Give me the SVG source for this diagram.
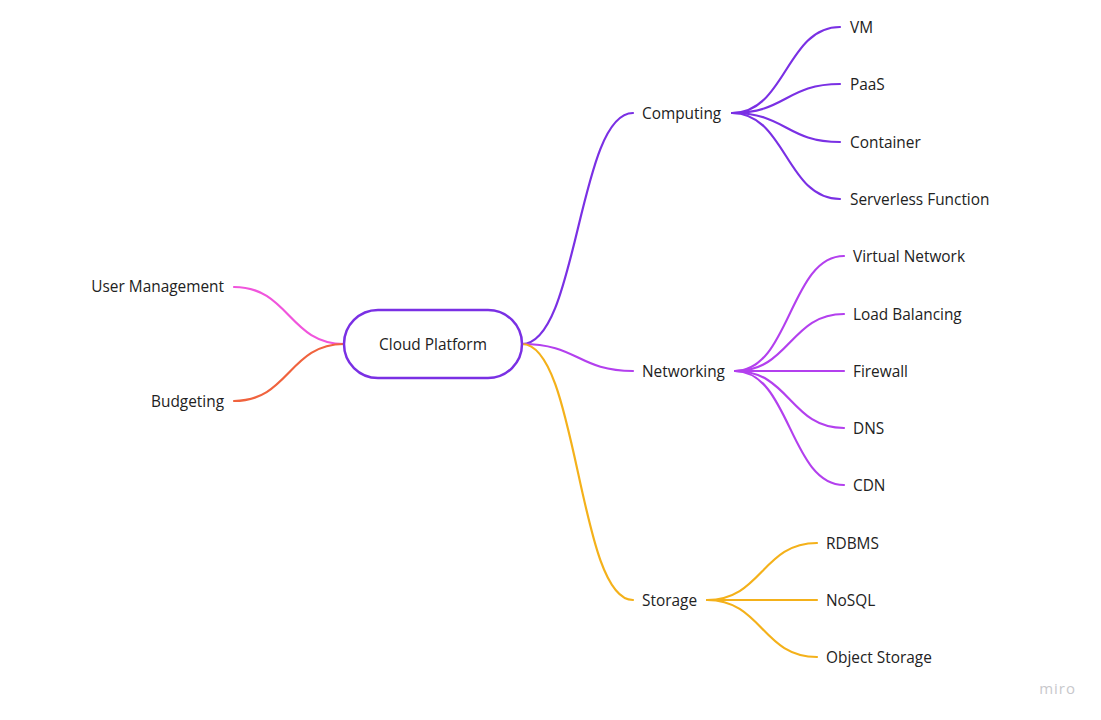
<svg xmlns="http://www.w3.org/2000/svg" width="1101" height="720" viewBox="0 0 1101 720">
<style>
text{font-family:"Open Sans","Noto Sans","Liberation Sans",sans-serif;font-size:15.4px;fill:#222;}
.e{fill:none;stroke-width:2.2;stroke-linecap:round;}
.c{stroke:#7a30e4;}
.n{stroke:#b340ee;}
.s{stroke:#f4b11a;}
.u{stroke:#f055dc;}
.b{stroke:#f0633e;}
.r{text-anchor:end;}
</style>
<rect width="1101" height="720" fill="#fff"/>
<g id="connectors">
<path class="e c" d="M522,344 C578,344 578,113 633,113"/>
<path class="e n" d="M522,344 C578,344 578,371 633,371"/>
<path class="e s" d="M522,344 C578,344 578,600 633,600"/>
<path class="e u" d="M344,344 C289,344 289,287 234,287"/>
<path class="e b" d="M344,344 C289,344 289,401 234,401"/>
<path class="e c" d="M732,113 C786,113 786,27 840,27"/>
<path class="e c" d="M732,113 C786,113 786,84 840,84"/>
<path class="e c" d="M732,113 C786,113 786,142 840,142"/>
<path class="e c" d="M732,113 C786,113 786,199 840,199"/>
<path class="e n" d="M735,371 C790,371 790,256 844,256"/>
<path class="e n" d="M735,371 C790,371 790,314 844,314"/>
<path class="e n" d="M735,371 L844,371"/>
<path class="e n" d="M735,371 C790,371 790,428 844,428"/>
<path class="e n" d="M735,371 C790,371 790,485 844,485"/>
<path class="e s" d="M707,600 C762,600 762,543 817,543"/>
<path class="e s" d="M707,600 L817,600"/>
<path class="e s" d="M707,600 C762,600 762,657 817,657"/>
</g>
<g id="root"><rect x="344" y="310" width="178" height="68" rx="34" fill="#fff" stroke="#7a30e4" stroke-width="2.5"/><text x="433" y="350" text-anchor="middle">Cloud Platform</text></g>
<g id="computing"><text x="642" y="119">Computing</text></g>
<g id="networking"><text x="642" y="377">Networking</text></g>
<g id="storage"><text x="642" y="606">Storage</text></g>
<g id="user-management"><text class="r" x="224" y="292">User Management</text></g>
<g id="budgeting"><text class="r" x="224" y="407">Budgeting</text></g>
<g id="vm"><text x="850" y="33">VM</text></g>
<g id="paas"><text x="850" y="90">PaaS</text></g>
<g id="container"><text x="850" y="148">Container</text></g>
<g id="serverless"><text x="850" y="205">Serverless Function</text></g>
<g id="vnet"><text x="853" y="262">Virtual Network</text></g>
<g id="lb"><text x="853" y="320">Load Balancing</text></g>
<g id="firewall"><text x="853" y="377">Firewall</text></g>
<g id="dns"><text x="853" y="434">DNS</text></g>
<g id="cdn"><text x="853" y="491">CDN</text></g>
<g id="rdbms"><text x="826" y="549">RDBMS</text></g>
<g id="nosql"><text x="826" y="606">NoSQL</text></g>
<g id="object-storage"><text x="826" y="663">Object Storage</text></g>
<text x="1076" y="694" text-anchor="end" style="fill:#c8c8cc;font-size:15px;letter-spacing:1px">miro</text>
</svg>
